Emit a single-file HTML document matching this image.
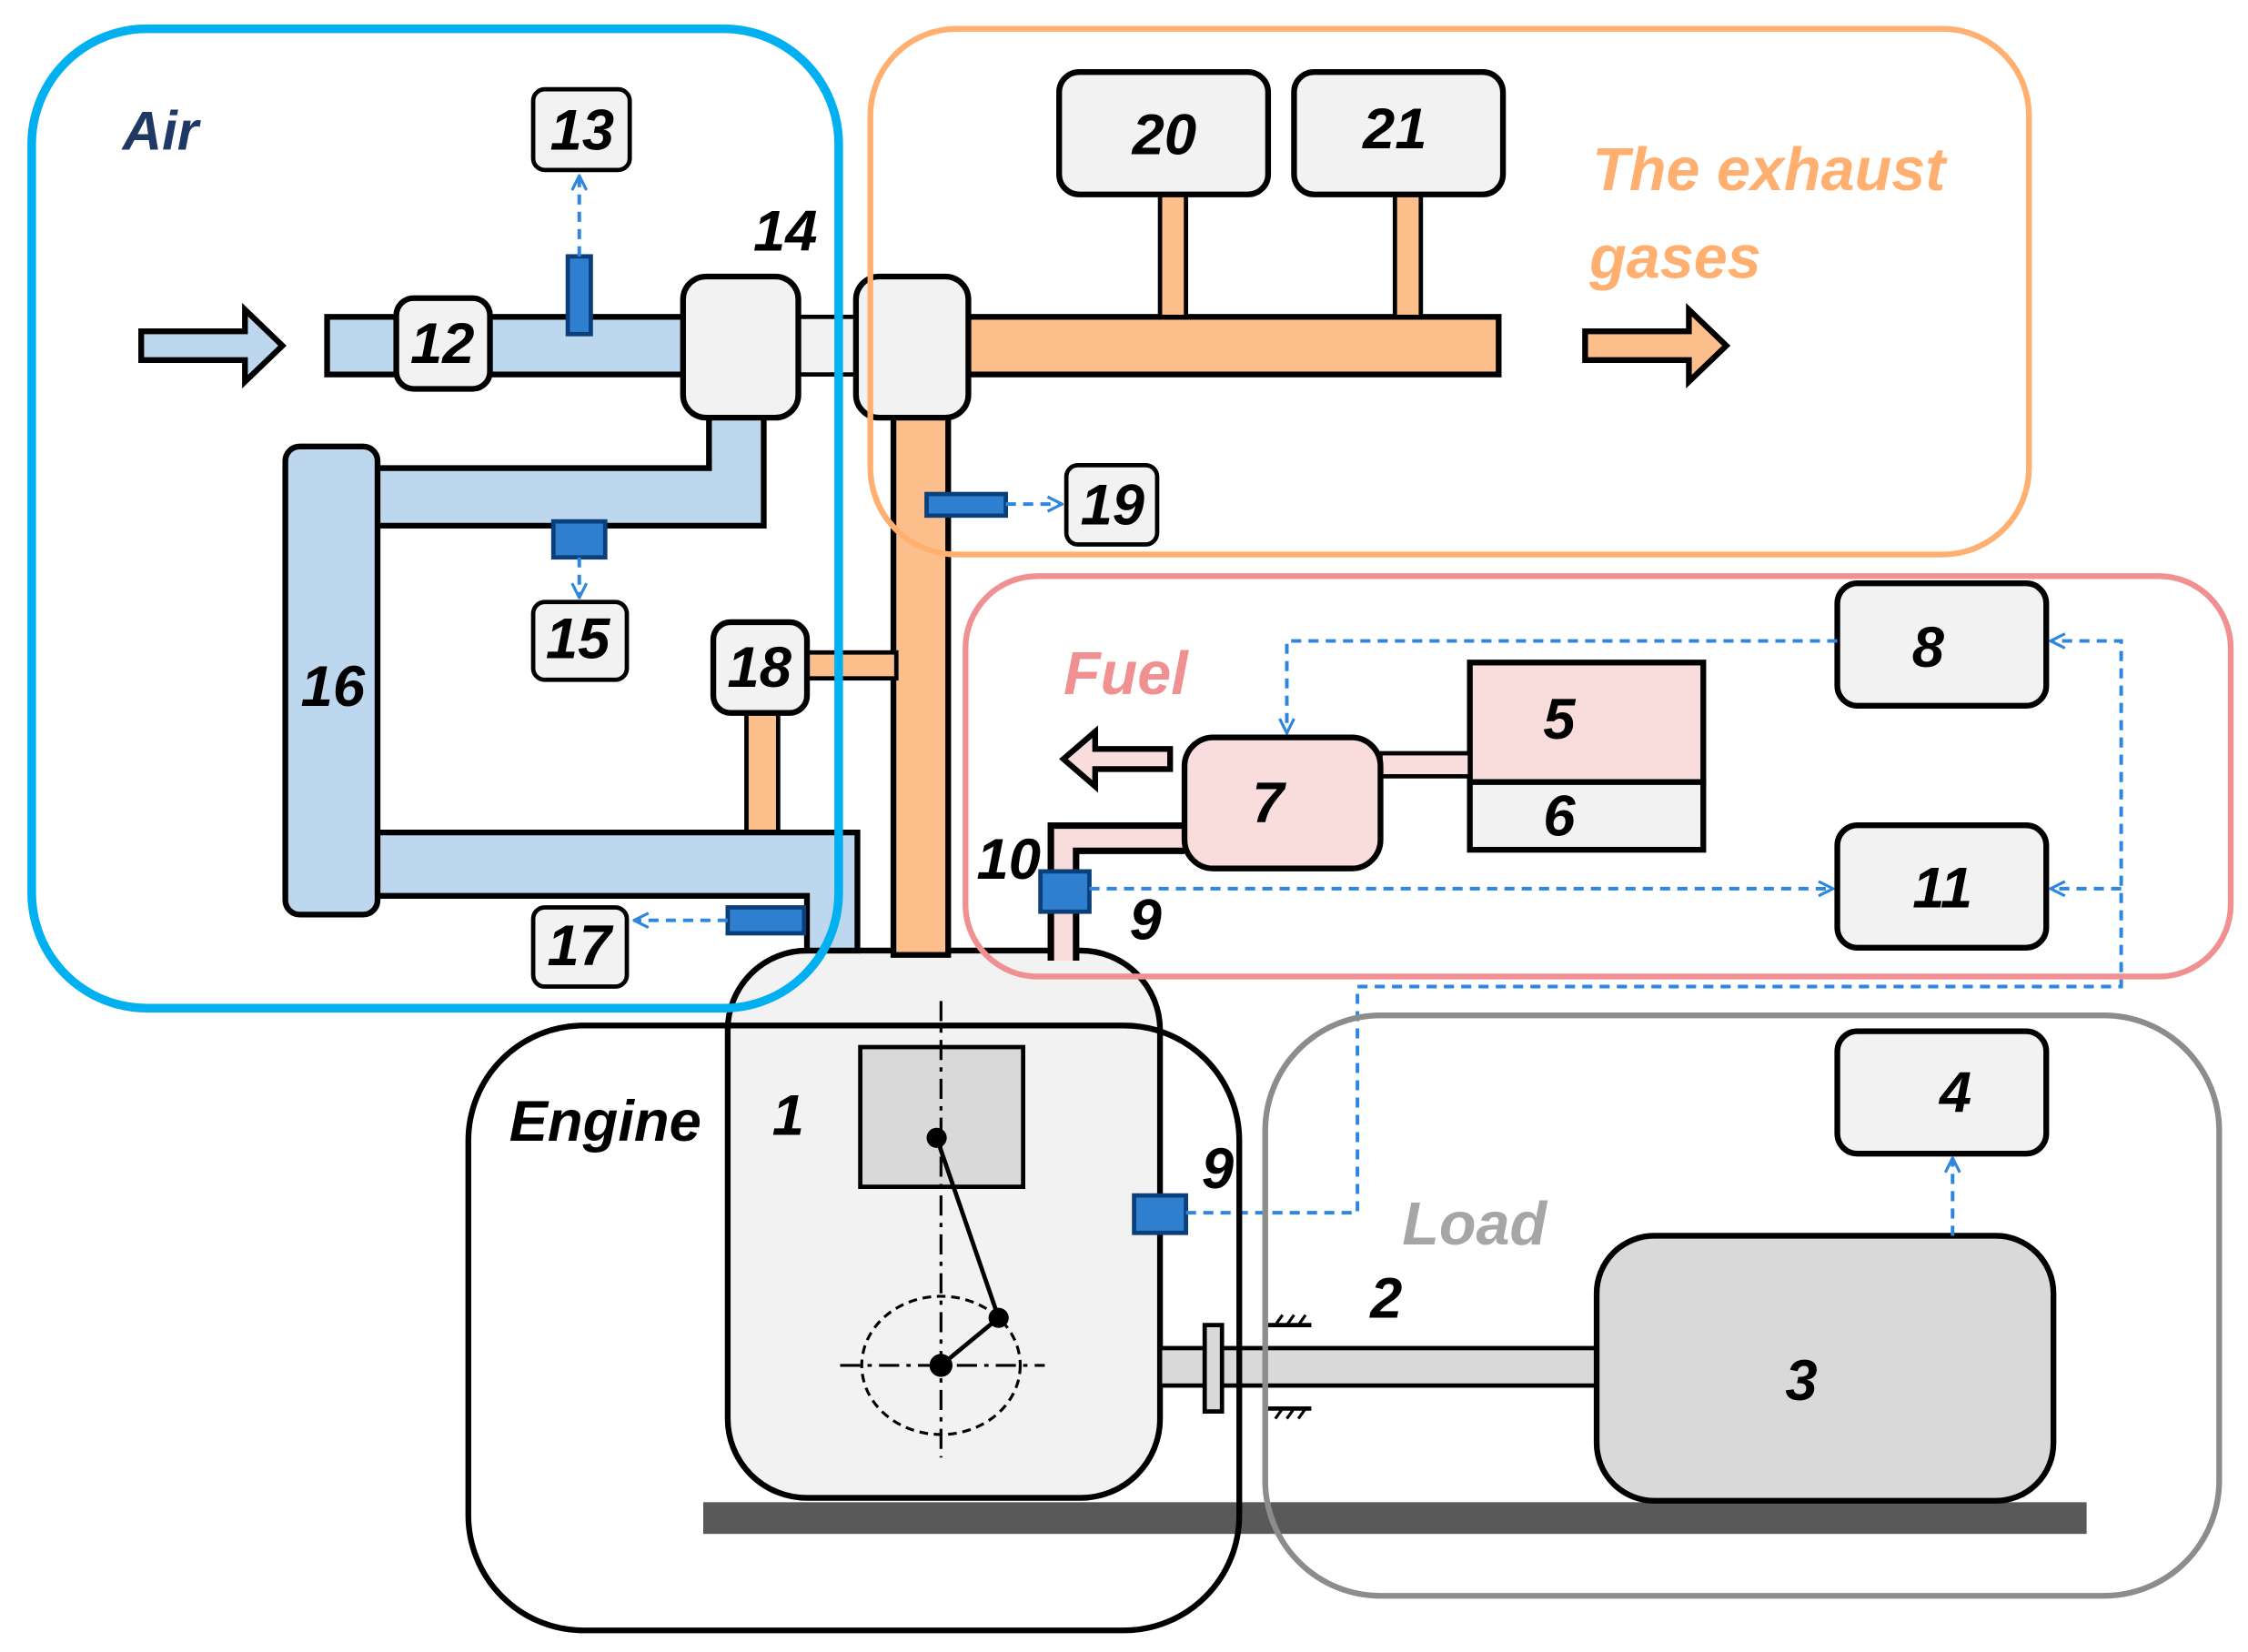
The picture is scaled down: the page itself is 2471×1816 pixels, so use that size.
<!DOCTYPE html>
<html><head><meta charset="utf-8"><style>html,body{margin:0;padding:0;background:#fff}svg{display:block}text{font-family:"Liberation Sans",sans-serif;font-weight:bold;font-style:italic}</style></head><body>
<svg width="2471" height="1816" viewBox="0 0 1560 1147" preserveAspectRatio="none" xmlns="http://www.w3.org/2000/svg">
<defs>
<marker id="ar" viewBox="0 0 12 12" refX="11" refY="6" markerWidth="12" markerHeight="12" markerUnits="userSpaceOnUse" orient="auto"><path d="M1,1 L11,6 L1,11" fill="none" stroke="#2e86de" stroke-width="2"/></marker>
</defs>
<g stroke="#000" stroke-width="4">
<!-- engine block -->
<rect x="505" y="660" width="300" height="380" rx="55" fill="#f2f2f2"/>
<rect x="488" y="1043" width="960" height="22" fill="#595959" stroke="none"/>
<rect x="597" y="727" width="113" height="97" fill="#d9d9d9" stroke-width="3"/>
<line x1="653" y1="695" x2="653" y2="1012" stroke-width="2" stroke-dasharray="14,5,3,5"/>
<line x1="583" y1="948" x2="725" y2="948" stroke-width="2" stroke-dasharray="14,5,3,5"/>
<ellipse cx="653" cy="948" rx="55" ry="48" fill="none" stroke-width="2" stroke-dasharray="6,4"/>
<polyline points="650,790 693,915 653,948" fill="none" stroke-width="3"/>
<circle cx="650" cy="790" r="7" fill="#000" stroke="none"/><circle cx="693" cy="915" r="7" fill="#000" stroke="none"/><circle cx="653" cy="948" r="8" fill="#000" stroke="none"/>
<!-- shaft -->
<rect x="805" y="936" width="305" height="26" fill="#d9d9d9" stroke-width="3"/>
<rect x="836" y="920" width="12" height="60" fill="#d9d9d9" stroke-width="3"/>
<line x1="880" y1="920" x2="910" y2="920" stroke-width="3"/><line x1="880" y1="978" x2="910" y2="978" stroke-width="3"/>
<path d="M885,920 l5,-7 M893,920 l5,-7 M901,920 l5,-7 M885,985 l5,-7 M893,985 l5,-7 M901,985 l5,-7" stroke-width="2"/>
<rect x="1108" y="858" width="317" height="184" rx="40" fill="#d9d9d9"/>
<rect x="1275" y="716" width="145" height="85" rx="14" fill="#f2f2f2"/>
<rect x="1275" y="405" width="145" height="85" rx="14" fill="#f2f2f2"/>
<rect x="1275" y="573" width="145" height="85" rx="14" fill="#f2f2f2"/>
<!-- fuel -->
<rect x="1020" y="460" width="162" height="83" fill="#f9dcdc"/>
<rect x="1020" y="543" width="162" height="47" fill="#f2f2f2"/>
<rect x="958" y="523" width="62" height="16" fill="#f9dcdc" stroke-width="3"/>
<path d="M822,582 H738 V667" fill="none" stroke-width="22"/>
<path d="M822,582 H738 V667" fill="none" stroke="#f9dcdc" stroke-width="13"/>
<rect x="822" y="512" width="136" height="91" rx="20" fill="#f9dcdc"/>
<path d="M812,520 H760 V508 L738,527 L760,546 V534 H812 Z" fill="#f9dcdc" stroke-width="4"/>
<rect x="722" y="605" width="34" height="28" fill="#2e7fd0" stroke="#0b3f7a" stroke-width="3"/>
<!-- exhaust -->
<rect x="620" y="285" width="38" height="378" fill="#fcbf8c"/>
<rect x="560" y="453" width="62" height="18" fill="#fcbf8c" stroke-width="3"/>
<rect x="518" y="495" width="22" height="85" fill="#fcbf8c" stroke-width="3"/>
<rect x="668" y="220" width="372" height="40" fill="#fcbf8c"/>
<rect x="805" y="135" width="18" height="85" fill="#fcbf8c" stroke-width="3"/>
<rect x="968" y="135" width="18" height="85" fill="#fcbf8c" stroke-width="3"/>
<rect x="735" y="50" width="145" height="85" rx="14" fill="#f2f2f2"/>
<rect x="898" y="50" width="145" height="85" rx="14" fill="#f2f2f2"/>
<path d="M1100,230 H1172 V215 L1198,240 L1172,265 V250 H1100 Z" fill="#fcbf8c"/>
<rect x="550" y="220" width="48" height="40" fill="#f2f2f2" stroke-width="3"/>
<rect x="594" y="192" width="78" height="98" rx="16" fill="#f2f2f2"/>
<!-- air -->
<path d="M98,230 H170 V215 L196,240 L170,265 V250 H98 Z" fill="#bdd7ee"/>
<rect x="227" y="220" width="250" height="40" fill="#bdd7ee"/>
<path d="M492,288 V325 H260 V365 H530 V288" fill="#bdd7ee"/>
<path d="M260,578 H595 V660 H560 V622 H260 Z" fill="#bdd7ee"/>
<rect x="198" y="310" width="64" height="325" rx="10" fill="#bdd7ee"/>
<rect x="474" y="192" width="80" height="98" rx="16" fill="#f2f2f2"/>
<rect x="275" y="207" width="65" height="63" rx="12" fill="#f2f2f2"/>
<rect x="370" y="62" width="67" height="56" rx="8" fill="#f2f2f2" stroke-width="3"/>
<rect x="370" y="418" width="65" height="54" rx="8" fill="#f2f2f2" stroke-width="3"/>
<rect x="370" y="630" width="65" height="55" rx="8" fill="#f2f2f2" stroke-width="3"/>
<rect x="495" y="432" width="65" height="63" rx="12" fill="#f2f2f2"/>
<rect x="740" y="323" width="63" height="55" rx="8" fill="#f2f2f2" stroke-width="3"/>
</g>
<!-- sensors -->
<g fill="#2e7fd0" stroke="#0b3f7a" stroke-width="3">
<rect x="394" y="178" width="16" height="54"/>
<rect x="384" y="362" width="36" height="25"/>
<rect x="505" y="630" width="53" height="18"/>
<rect x="643" y="343" width="55" height="15"/>
<rect x="787" y="830" width="36" height="26"/>
</g>
<!-- dashed -->
<g fill="none" stroke="#2e86de" stroke-width="2.5" stroke-dasharray="7,5">
<line x1="402" y1="178" x2="402" y2="122" marker-end="url(#ar)"/>
<line x1="402" y1="387" x2="402" y2="415" marker-end="url(#ar)"/>
<line x1="505" y1="639" x2="440" y2="639" marker-end="url(#ar)"/>
<line x1="698" y1="350" x2="737" y2="350" marker-end="url(#ar)"/>
<line x1="756" y1="617" x2="1272" y2="617" marker-end="url(#ar)"/>
<polyline points="1275,445 893,445 893,509" marker-end="url(#ar)"/>
<polyline points="823,842 942,842 942,685 1472,685 1472,445 1423,445" marker-end="url(#ar)"/>
<polyline points="1472,617 1423,617" marker-end="url(#ar)"/>
<line x1="1355" y1="858" x2="1355" y2="804" marker-end="url(#ar)"/>
</g>
<!-- group boxes -->
<rect x="22" y="20" width="560" height="680" rx="80" fill="none" stroke="#00b0f0" stroke-width="6"/>
<rect x="604" y="20" width="804" height="365" rx="60" fill="none" stroke="#ffb070" stroke-width="4"/>
<rect x="670" y="400" width="878" height="278" rx="50" fill="none" stroke="#f09090" stroke-width="4"/>
<rect x="878" y="705" width="662" height="403" rx="80" fill="none" stroke="#8c8c8c" stroke-width="4"/>
<rect x="325" y="712" width="535" height="420" rx="80" fill="none" stroke="#000" stroke-width="4"/>
<!-- labels -->
<g font-size="40" fill="#000" text-anchor="middle">
<text x="404" y="104">13</text><text x="307" y="252">12</text><text x="545" y="174">14</text>
<text x="401" y="457">15</text><text x="231" y="490">16</text><text x="402" y="670">17</text>
<text x="527" y="477">18</text><text x="772" y="364">19</text>
<text x="808" y="107">20</text><text x="968" y="103">21</text>
<text x="1338" y="463">8</text><text x="1348" y="630">11</text><text x="1357" y="772">4</text>
<text x="1082" y="513">5</text><text x="1082" y="580">6</text><text x="880" y="571">7</text>
<text x="700" y="610">10</text><text x="795" y="652">9</text><text x="845" y="825">9</text>
<text x="547" y="788">1</text><text x="962" y="915">2</text><text x="1250" y="972">3</text>
<text x="420" y="792">Engine</text>
</g>
<text x="85" y="104" font-size="38" fill="#1f3864" font-weight="normal">Air</text>
<text x="1105" y="132" font-size="42" fill="#ffb070">The exhaust</text>
<text x="1103" y="193" font-size="42" fill="#ffb070">gases</text>
<text x="738" y="482" font-size="42" fill="#f09090">Fuel</text>
<text x="973" y="864" font-size="42" fill="#a6a6a6">Load</text>
</svg>
</body></html>
